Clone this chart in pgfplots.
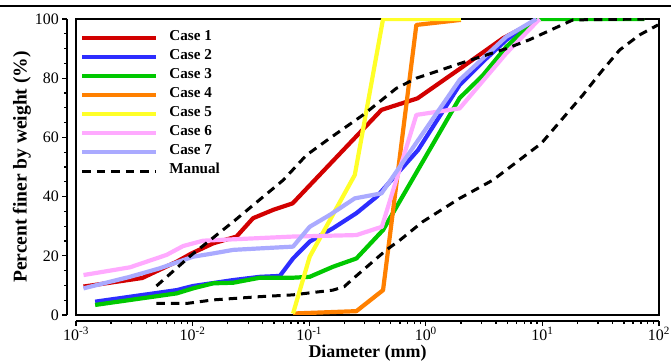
\documentclass[border=0pt]{standalone}
\usepackage{pgfplots}
\pgfplotsset{compat=1.18}
\usepackage{fontspec}
\setmainfont{Liberation Serif}
\definecolor{cA}{RGB}{210,0,0}
\definecolor{cB}{RGB}{45,45,255}
\definecolor{cC}{RGB}{0,200,0}
\definecolor{cD}{RGB}{255,128,0}
\definecolor{cE}{RGB}{255,255,40}
\definecolor{cF}{RGB}{255,170,255}
\definecolor{cG}{RGB}{170,170,255}
\begin{document}
\begin{tikzpicture}
\begin{axis}[name=ax, scale only axis, width=583bp, height=296bp,
  xmode=log, xmin=1e-3, xmax=1e2, ymin=0, ymax=100,
  ticks=none, axis line style={line width=1.4bp},
  every axis plot/.append style={line width=4.2bp, line join=round},
  legend cell align=left,
  legend image code/.code={\draw[#1, line cap=butt] (0bp,0bp) -- (74bp,0bp);},
  legend style={draw=none, fill=none, at={(0,1)}, anchor=north west, xshift=4bp, yshift=-9bp,
    inner sep=0pt, font=\fontsize{15.2}{18}\selectfont\bfseries,
    nodes={inner sep=0pt, text height=12bp, text depth=7.1bp},
    /tikz/every odd column/.append style={column sep=11bp}},
]
\addplot[cA] coordinates {(1.16e-3,9.6) (3.7e-3,12.5) (7.3e-3,18) (0.0098,20.8) (0.015,24.2) (0.0238,26.5) (0.033,32.7) (0.049,35.5) (0.072,37.7) (0.417,69.3) (0.85,73.2) (2.08,83.9) (4.59,93.5) (9.46,100)};
\addlegendentry{Case 1}
\addplot[cB] coordinates {(1.46e-3,4.5) (7.3e-3,8.4) (0.0101,9.8) (0.0223,11.8) (0.0378,12.9) (0.056,13.2) (0.0727,19.1) (0.101,24.8) (0.16,29.3) (0.254,34.4) (0.38,40) (0.857,55.7) (1.95,77.7) (3.09,85.6) (4.9,92.9) (8.87,100)};
\addlegendentry{Case 2}
\addplot[cC] coordinates {(1.46e-3,3.4) (7.3e-3,7.3) (0.0101,9) (0.015,10.7) (0.0223,10.9) (0.0378,12.6) (0.0727,12.6) (0.101,12.9) (0.16,16.3) (0.254,19.1) (0.43,28.7) (1.95,73.3) (3.09,81) (4.9,90.6) (8.87,100) (75,100)};
\addlegendentry{Case 3}
\addplot[cD] coordinates {(0.0727,0.5) (0.254,1.3) (0.43,8.4) (0.83,98) (2.0,99.7)};
\addlegendentry{Case 4}
\addplot[cE] coordinates {(0.0727,0.5) (0.101,19.7) (0.246,47.3) (0.43,100) (2.0,100)};
\addlegendentry{Case 5}
\addplot[cF] coordinates {(1.16e-3,13.5) (2.9e-3,16.1) (5.98e-3,20.3) (8.3e-3,23.3) (0.0123,25.1) (0.0727,26.5) (0.254,27) (0.42,29.8) (0.83,67.6) (1.95,69.8) (4.9,88.4) (9.46,100)};
\addlegendentry{Case 6}
\addplot[cG] coordinates {(1.16e-3,9) (2.9e-3,12.9) (5.25e-3,15.8) (0.0101,19.7) (0.015,20.8) (0.0223,22) (0.0378,22.5) (0.0727,23.1) (0.101,29.8) (0.15,33.8) (0.246,39.4) (0.417,41.1) (1.95,79.4) (4.9,94) (8.87,100)};
\addlegendentry{Case 7}
\addplot[black, line width=3bp, dash pattern=on 8.5bp off 6bp] coordinates {(0.0049,9.8) (0.0098,20.3) (0.0223,31.5) (0.06,45.6) (0.0946,54) (0.15,59.7) (0.29,67.6) (0.56,76.6) (0.83,80) (2.2,85.6) (4.9,90) (7.76,93) (18.3,99.7) (75,100)};
\addlegendentry{Manual}
\addplot[black, line width=3bp, dash pattern=on 8.5bp off 6bp, forget plot] coordinates {(0.0049,3.9) (0.0089,3.9) (0.015,5.1) (0.0378,6.2) (0.0727,6.8) (0.16,8.4) (0.2,9.6) (0.24,12.4) (0.46,22) (0.6,25.3) (0.94,31.5) (1.95,39.4) (3.77,45.6) (9.8,58) (15,66.5) (22.2,74.3) (32,82.2) (45.9,89.5) (68,94.6) (98,98)};
\end{axis}
\begin{axis}[scale only axis, width=583bp, height=296bp,
  xmode=log, xmin=1e-3, xmax=1e2, ymin=0, ymax=100,
  axis lines=left, axis line style={-, line width=1.4bp},
  axis x line shift=6bp, axis y line shift=9bp,
  tick align=outside, major tick length=5bp, minor tick length=3bp,
  every tick/.style={black, line width=1.3bp},
  xtick={1e-3,1e-2,1e-1,1,10,100},
  xticklabels={10\textsuperscript{-3},10\textsuperscript{-2},10\textsuperscript{-1},10\textsuperscript{0},10\textsuperscript{1},10\textsuperscript{2}},
  minor xtick={2e-3,3e-3,4e-3,5e-3,6e-3,7e-3,8e-3,9e-3,2e-2,3e-2,4e-2,5e-2,6e-2,7e-2,8e-2,9e-2,0.2,0.3,0.4,0.5,0.6,0.7,0.8,0.9,2,3,4,5,6,7,8,9,20,30,40,50,60,70,80,90},
  ytick={0,20,40,60,80,100}, minor ytick={5,10,15,25,30,35,45,50,55,65,70,75,85,90,95},
  /pgf/number format/assume math mode=true,
  tick label style={font=\fontsize{16}{19}\selectfont},
  yticklabel style={inner xsep=3bp},
  xticklabel style={inner ysep=0bp, yshift=-0.5bp},
  xlabel={\textbf{Diameter (mm)}}, ylabel={\textbf{Percent finer by weight (\%)}},
  every axis x label/.style={at={(axis description cs:0.5,0)}, anchor=base, yshift=-42.5bp, font=\fontsize{18}{21}\selectfont},
  every axis y label/.style={at={(axis description cs:0,0.5)}, xshift=-54bp, rotate=90, anchor=center, font=\fontsize{19.6}{23}\selectfont},
]
\end{axis}
\draw[line width=2.6bp] ([xshift=-76bp,yshift=13bp]ax.north west) -- ([xshift=12bp,yshift=13bp]ax.north east);
\pgfresetboundingbox
\useasboundingbox ([xshift=-76bp,yshift=19bp]ax.north west) rectangle ([xshift=12bp,yshift=-46bp]ax.south east);
\end{tikzpicture}
\end{document}
